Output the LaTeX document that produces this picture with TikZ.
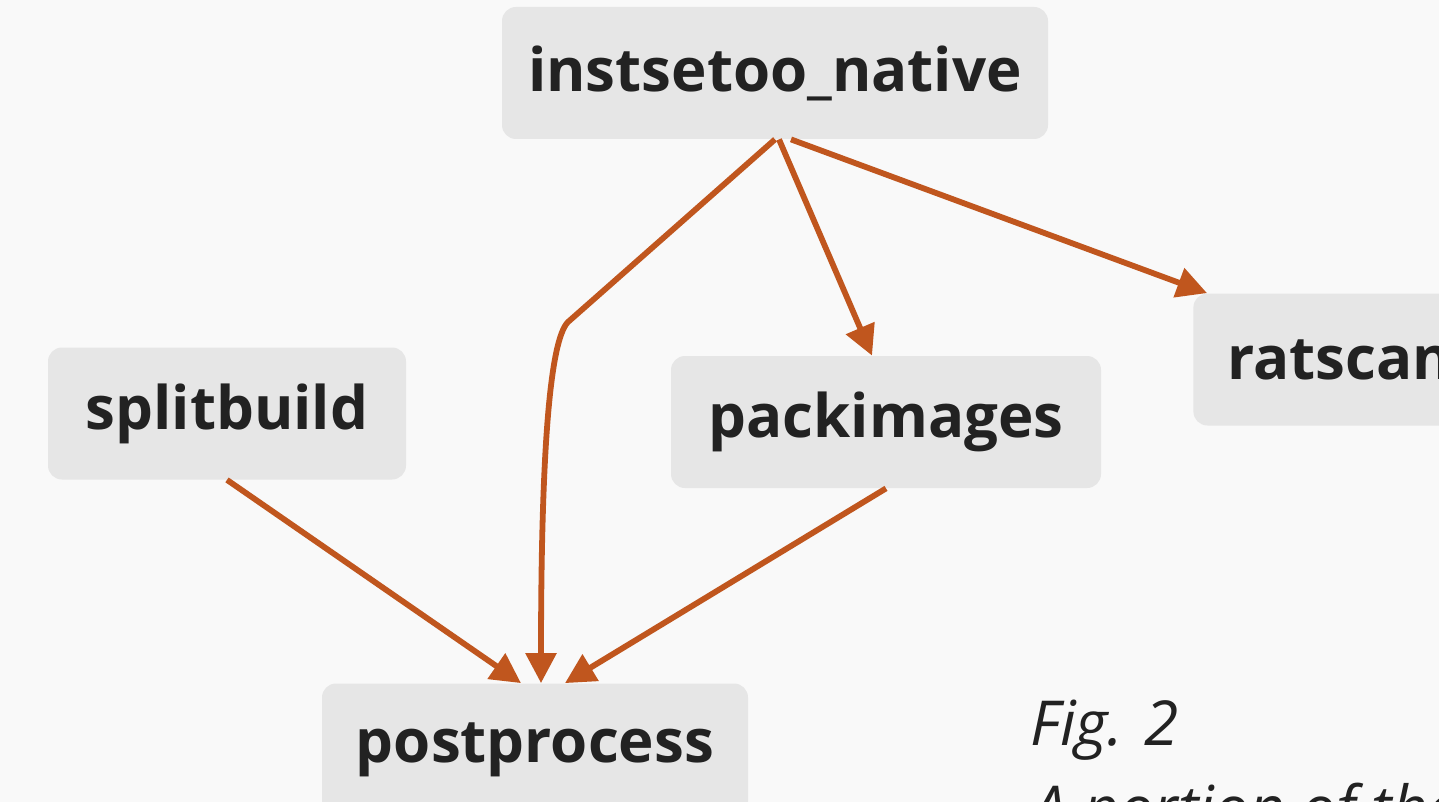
\documentclass[tikz,border=0pt]{standalone}
\usepackage{fontspec}
\setmainfont{Open Sans}
\usetikzlibrary{arrows.meta,positioning,calc}
\definecolor{bgcol}{HTML}{F9F9F9}
\definecolor{boxcol}{HTML}{E6E6E6}
\definecolor{inkcol}{HTML}{222222}
\definecolor{flowcol}{HTML}{C0561E}
\begin{document}
\begin{tikzpicture}[x=0.5pt,y=-0.5pt]

  \tikzstyle{task}=[shape=rectangle, fill=boxcol, rounded corners=7pt, minimum height=66pt, text=inkcol, font=\fontsize{30}{34}\bfseries\selectfont]
  \tikzstyle{flow}=[color=flowcol, line width=2.9pt, -{Triangle[length=15pt,width=15pt]}]

  \fill[bgcol] (0,0) rectangle (1439,802);
  \clip (0,0) rectangle (1439,802);

  \node [task,minimum width=273pt] (ins) at (775,73) {instsetoo\_native};
  \node [task,minimum width=179pt] (split) at (227,413.5) {splitbuild};
  \node [task,minimum width=215pt] (pack) at (886,422) {packimages};
  \node [task,anchor=west,text width=150pt,align=left,inner xsep=17pt] (rat) at (1193,359.5) {ratscan};
  \node [task,minimum width=213pt] (post) at (535,749.5) {postprocess};

  \node [anchor=base west, inner sep=0pt, text=inkcol, font=\fontsize{31}{40}\itshape\selectfont] (fig) at (1030,745) {Fig. 2};
  \node [anchor=base west, inner sep=0pt, text=inkcol, font=\fontsize{31}{40}\itshape\selectfont] (caption) at (1032,830) {A portion of the};

  \draw[flow] (ins.south) -- (568,322) .. controls (550,340) and (541,450) .. ([xshift=3pt]post.north);
  \draw[flow] ([xshift=2pt]ins.south) -- ([xshift=-7pt]pack.north);
  \draw[flow] ([xshift=8pt]ins.south) -- ([xshift=7pt]rat.north west);
  \draw[flow] (split.south) -- ([xshift=-7pt]post.north);
  \draw[flow] (pack.south) -- ([xshift=15pt]post.north);
\end{tikzpicture}
\end{document}
